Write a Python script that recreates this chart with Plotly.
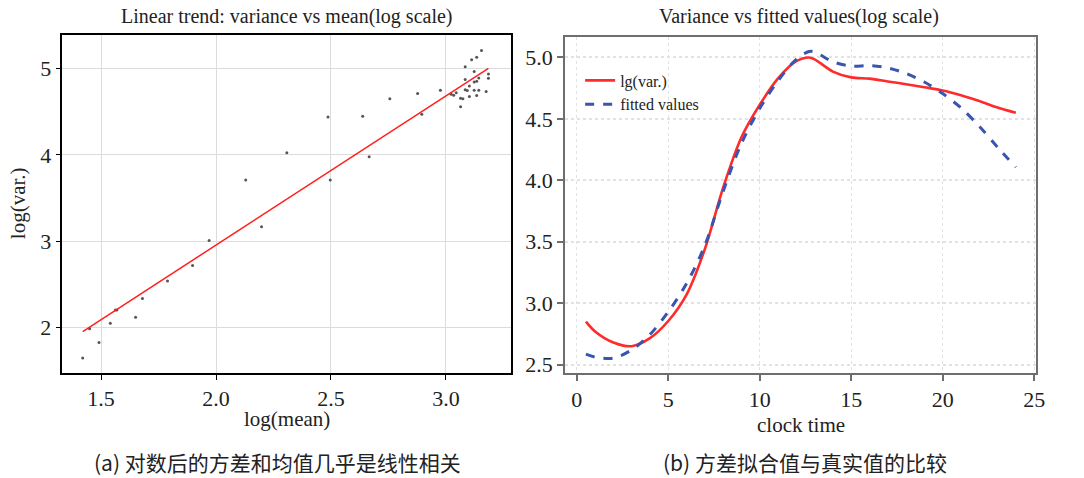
import plotly.graph_objects as go

# ---------------- data: left panel (log mean vs log variance) ----------------
log_mean = [1.420, 1.450, 1.491, 1.540, 1.562, 1.569, 1.650, 1.680, 1.789, 1.898,
            1.970, 2.129, 2.198, 2.308, 2.487, 2.497, 2.638, 2.666, 2.756, 2.877,
            2.895, 2.976, 3.023, 3.034, 3.045, 3.064, 3.074, 3.064, 3.084, 3.084,
            3.084, 3.093, 3.102, 3.102, 3.112, 3.123, 3.123, 3.134, 3.123, 3.134,
            3.134, 3.143, 3.143, 3.155, 3.175, 3.185, 3.185]
log_var = [1.648, 1.985, 1.828, 2.050, 2.203, 2.203, 2.119, 2.337, 2.540, 2.720,
           3.008, 3.709, 3.169, 4.027, 4.441, 3.709, 4.448, 3.981, 4.651, 4.713,
           4.471, 4.751, 4.705, 4.693, 4.720, 4.659, 4.651, 4.559, 5.023, 4.874,
           4.755, 4.747, 4.801, 4.678, 5.103, 4.969, 4.847, 4.854, 4.751, 5.134,
           4.690, 4.893, 4.751, 5.211, 4.736, 4.939, 4.889]
fit_intercept = -0.500
fit_slope = 1.728

# ---------------- data: right panel (variance vs fitted values) ----------------
clock_time = [0.5, 1, 2, 3, 4, 5, 6, 7, 8, 9, 10, 11, 12, 12.7, 13, 14, 15, 16,
              17, 18, 19, 20, 21, 22, 23, 24]
lg_var = [2.85, 2.77, 2.68, 2.65, 2.715, 2.855, 3.07, 3.44, 3.94, 4.35, 4.615, 4.83,
          4.97, 5.00, 4.985, 4.885, 4.838, 4.828, 4.805, 4.782, 4.757, 4.731, 4.692,
          4.645, 4.593, 4.55]
fitted = [2.585, 2.562, 2.553, 2.62, 2.745, 2.93, 3.16, 3.47, 3.91, 4.30, 4.585, 4.81,
          4.985, 5.048, 5.045, 4.965, 4.93, 4.933, 4.915, 4.87, 4.80, 4.706, 4.59,
          4.44, 4.27, 4.106]

titles = ["Linear trend: variance vs mean(log scale)", "Variance vs fitted values(log scale)"]
captions = ["(a) 对数后的方差和均值几乎是线性相关", "(b) 方差拟合值与真实值的比较"]

SERIF = "Liberation Serif"
CJK = "Noto Sans CJK SC"
W, H = 1084, 478
INK = "#222222"

fig = go.Figure()

# left: scatter points
fig.add_trace(go.Scatter(x=log_mean, y=log_var, mode="markers",
                         marker=dict(size=3, color="#555555"),
                         showlegend=False, xaxis="x", yaxis="y"))
# left: regression line computed from fit coefficients over data range
x0, x1 = min(log_mean), max(log_mean)
fig.add_trace(go.Scatter(x=[x0, x1],
                         y=[fit_intercept + fit_slope * x0, fit_intercept + fit_slope * x1],
                         mode="lines", line=dict(color="#ff1f1f", width=1.5),
                         showlegend=False, xaxis="x", yaxis="y"))

# right: curves
fig.add_trace(go.Scatter(x=clock_time, y=lg_var, mode="lines", name="lg(var.)",
                         line=dict(color="#ff2a2a", width=2.6, shape="spline", smoothing=0.9),
                         xaxis="x2", yaxis="y2"))
fig.add_trace(go.Scatter(x=clock_time, y=fitted, mode="lines", name="fitted values",
                         line=dict(color="#3a55ad", width=3, dash="dash", shape="spline", smoothing=0.9),
                         xaxis="x2", yaxis="y2"))

tickfont = dict(family=SERIF, size=22, color=INK)

fig.update_layout(
    width=W, height=H,
    margin=dict(l=0, r=0, t=0, b=0),
    paper_bgcolor="white", plot_bgcolor="white",
    font=dict(family=SERIF, color=INK),
    xaxis=dict(domain=[63 / W, 515 / W], range=[1.332, 3.282],
               tickvals=[1.5, 2.0, 2.5, 3.0], ticktext=["1.5", "2.0", "2.5", "3.0"],
               showgrid=True, gridcolor="#dcdcdc", gridwidth=1,
               showline=True, linecolor="black", linewidth=1.5, mirror=True,
               ticks="outside", ticklen=5, tickcolor="black", tickfont=tickfont,
               zeroline=False, anchor="y"),
    yaxis=dict(domain=[1 - 376 / H, 1 - 35 / H], range=[1.475, 5.394],
               tickvals=[2, 3, 4, 5],
               showgrid=True, gridcolor="#dcdcdc", gridwidth=1,
               showline=True, linecolor="black", linewidth=1.5, mirror=True,
               ticks="outside", ticklen=5, tickcolor="black", tickfont=tickfont,
               zeroline=False, anchor="x"),
    xaxis2=dict(domain=[570 / W, 1045 / W], range=[-0.63, 25.12],
                tickvals=[0, 5, 10, 15, 20, 25],
                showgrid=True, gridcolor="#e2e2e2", gridwidth=1, griddash="dot",
                showline=True, linecolor="#6e6e6e", linewidth=2, mirror=True,
                ticks="outside", ticklen=6, tickcolor="#6e6e6e", tickwidth=1.5,
                tickfont=tickfont, zeroline=False, anchor="y2"),
    yaxis2=dict(domain=[1 - 376 / H, 1 - 37 / H], range=[2.433, 5.169],
                tickvals=[2.5, 3.0, 3.5, 4.0, 4.5, 5.0],
                ticktext=["2.5", "3.0", "3.5", "4.0", "4.5", "5.0"],
                showgrid=True, gridcolor="#e2e2e2", gridwidth=1.5, griddash="dot",
                showline=True, linecolor="#6e6e6e", linewidth=2, mirror=True,
                ticks="outside", ticklen=6, tickcolor="#6e6e6e", tickwidth=1.5,
                tickfont=tickfont, zeroline=False, anchor="x2"),
    legend=dict(x=585 / W, y=1 - 64 / H, xanchor="left", yanchor="top",
                bgcolor="rgba(0,0,0,0)", borderwidth=0,
                font=dict(family=SERIF, size=16, color=INK),
                tracegroupgap=0, itemwidth=30),
)

def label(text, x, y, size, family=SERIF, angle=0):
    return dict(text=text, x=x / W, y=1 - y / H, xref="paper", yref="paper",
                xanchor="center", yanchor="middle", showarrow=False, textangle=angle,
                font=dict(family=family, size=size, color=INK))

ann = [
    label(titles[0], 289, 17, 20),
    label(titles[1], 806, 17, 20),
    label("log(mean)", 289, 423, 21),
    label("log(var.)", 18, 205, 21, angle=-90),
    label("clock time", 808, 429, 21),
    label(captions[0], 280, 466, 21, family=CJK),
    label(captions[1], 812, 466, 21, family=CJK),
]
fig.update_layout(annotations=ann)

fig.write_html("out.html")
